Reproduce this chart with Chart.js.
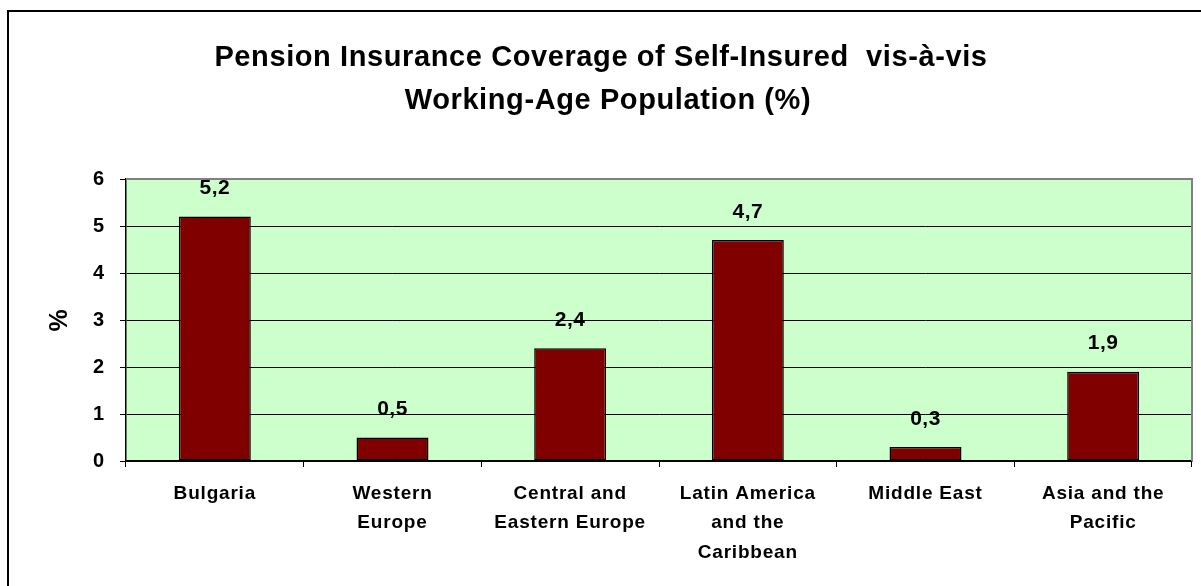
<!DOCTYPE html>
<html>
<head>
<meta charset="utf-8">
<script src="https://cdn.jsdelivr.net/npm/chart.js@4.4.1/dist/chart.umd.min.js"></script>
<style>
  body { margin: 0; background: #fff; }
  #wrap { width: 1201px; height: 586px; }
</style>
</head>
<body>
<div id="wrap"><canvas id="myChart" width="1201" height="586"></canvas></div>
<script>
// Chart data
var regions = [
  ['Bulgaria'],
  ['Western', 'Europe'],
  ['Central and', 'Eastern Europe'],
  ['Latin America', 'and the', 'Caribbean'],
  ['Middle East'],
  ['Asia and the', 'Pacific']
];
var coverage = [5.2, 0.5, 2.4, 4.7, 0.3, 1.9];
var yTicks = [0, 1, 2, 3, 4, 5, 6];
var titleLines = ['Pension Insurance Coverage of Self-Insured  vis-\u00e0-vis', 'Working-Age Population (%)'];

var FONT = '"Liberation Sans", Arial, sans-serif';

// background, frame, title, value labels
var decor = {
  id: 'decor',
  beforeLayout: function(chart) {
    chart.ctx.letterSpacing = '0.8px';
  },
  beforeDraw: function(chart) {
    var ctx = chart.ctx, a = chart.chartArea;
    ctx.letterSpacing = '0.8px';
    ctx.save();
    ctx.fillStyle = '#ffffff';
    ctx.fillRect(0, 0, chart.width, chart.height);
    ctx.fillStyle = '#ccffcc';
    ctx.fillRect(a.left, a.top, a.right - a.left, a.bottom - a.top);
    ctx.restore();
  },
  afterDraw: function(chart) {
    var ctx = chart.ctx, a = chart.chartArea;
    ctx.save();
    // plot area border (top / right)
    ctx.strokeStyle = '#808080';
    ctx.lineWidth = 2;
    ctx.beginPath();
    ctx.moveTo(a.left, a.top);
    ctx.lineTo(a.right, a.top);
    ctx.lineTo(a.right, a.bottom);
    ctx.stroke();
    // outer frame
    ctx.strokeStyle = '#000000';
    ctx.lineWidth = 2;
    ctx.beginPath();
    ctx.moveTo(8, chart.height + 5);
    ctx.lineTo(8, 11);
    ctx.lineTo(chart.width + 5, 11);
    ctx.stroke();
    // title
    ctx.fillStyle = '#000000';
    ctx.textAlign = 'center';
    ctx.textBaseline = 'middle';
    ctx.letterSpacing = '0.6px';
    ctx.font = 'bold 29px ' + FONT;
    ctx.fillText(titleLines[0], 601, 58);
    ctx.fillText(titleLines[1], 608, 101);
    // value labels
    ctx.letterSpacing = '0.5px';
    ctx.font = 'bold 21px ' + FONT;
    var meta = chart.getDatasetMeta(0);
    meta.data.forEach(function(bar, i) {
      var txt = String(coverage[i]).replace('.', ',');
      ctx.fillText(txt, bar.x, bar.y - 28);
    });
    ctx.restore();
  }
};

var chart = new Chart(document.getElementById('myChart'), {
  type: 'bar',
  data: {
    labels: regions,
    datasets: [{
      data: coverage,
      backgroundColor: '#800000',
      borderColor: '#000000',
      borderWidth: 1.5,
      borderSkipped: false,
      barPercentage: 0.405,
      categoryPercentage: 1
    }]
  },
  options: {
    responsive: false,
    animation: false,
    layout: { padding: { top: 179, left: 0, right: 9, bottom: 0 } },
    plugins: {
      legend: { display: false },
      tooltip: { enabled: false },
      title: { display: false }
    },
    scales: {
      x: {
        grid: {
          offset: true,
          drawOnChartArea: false,
          drawTicks: true,
          tickLength: 6,
          color: '#000000',
          tickColor: '#000000'
        },
        border: { color: '#000000', width: 1.5 },
        ticks: {
          color: '#000000',
          font: { family: FONT, size: 19, weight: 'bold', lineHeight: 1.55 },
          padding: 12,
          maxRotation: 0,
          autoSkip: false
        },
        afterFit: function(scale) { scale.height = 125; }
      },
      y: {
        min: 0,
        max: 6,
        afterBuildTicks: function(scale) {
          scale.ticks = yTicks.map(function(v) { return { value: v }; });
        },
        grid: {
          color: function(c) { return c.tick && c.tick.value === 6 ? '#808080' : '#000000'; },
          lineWidth: 1,
          drawTicks: true,
          tickLength: 6,
          tickColor: '#000000'
        },
        border: { color: '#000000', width: 1.5 },
        ticks: {
          color: '#000000',
          font: { family: FONT, size: 20, weight: 'bold' },
          padding: 15
        },
        title: {
          display: true,
          text: '%',
          color: '#000000',
          font: { family: FONT, size: 25, weight: 'bold', lineHeight: 1.2 },
          padding: { top: 45, bottom: 0 }
        },
        afterFit: function(scale) { scale.width = 126; }
      }
    }
  },
  plugins: [decor]
});
</script>
</body>
</html>
